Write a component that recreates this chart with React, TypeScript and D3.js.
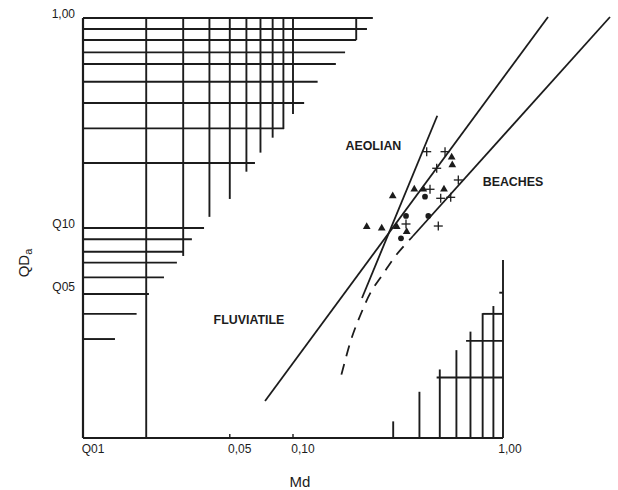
import React from "react";
import * as d3 from "d3";

// ---------- data ----------
const xTickValues = [0.01, 0.05, 0.1, 1];
const xTickLabels = ["Q01", "0,05", "0,10", "1,00"];
const yTickValues = [1, 0.1, 0.05];
const yTickLabels = ["1,00", "Q10", "Q05"];

// upper-left nomogram: horizontal rules (QDa level, Md where the rule stops)
const hRuleQDa = [1.0, 0.886, 0.786, 0.686, 0.604, 0.497, 0.394, 0.298, 0.204, 0.1, 0.0884, 0.0771, 0.0684, 0.0582, 0.0485, 0.039, 0.0296];
const hRuleMdEnd = [0.24, 0.225, 0.2, 0.177, 0.16, 0.131, 0.113, 0.0906, 0.0659, 0.0377, 0.033, 0.0301, 0.028, 0.0243, 0.0206, 0.018, 0.0142];
// upper-left nomogram: vertical rules (Md level, QDa where the rule stops)
const vRuleMd = [0.02, 0.03, 0.04, 0.05, 0.06, 0.07, 0.08, 0.09, 0.1, 0.2];
const vRuleQDaEnd = [0.01, 0.0736, 0.113, 0.1375, 0.1854, 0.2285, 0.2692, 0.296, 0.349, 0.786];

// lower-right nomogram: vertical rules from the bottom
const brVMd = [0.3, 0.4, 0.5, 0.6, 0.7, 0.8, 0.9, 1.0];
const brVQDaTop = [0.012, 0.0166, 0.0212, 0.0262, 0.0321, 0.0393, 0.0425, 0.0704];
// lower-right nomogram: horizontal rules to Md = 1
const brHQDa = [0.0194, 0.029, 0.039, 0.0492];
const brHMdStart = [0.483, 0.667, 0.8, 0.96];

// boundary lines
const fluvLineMd = [0.0736, 1.638];
const fluvLineQDa = [0.015, 1.011];
const beachLineMd = [0.3728, 3.232];
const beachLineQDa = [0.0916, 1.011];
const aeolLineMd = [0.2131, 0.4865];
const aeolLineQDa = [0.0464, 0.3425];
const dashLineMd = [0.3728, 0.3128, 0.2683, 0.2351, 0.2085, 0.1889, 0.1693];
const dashLineQDa = [0.0916, 0.0752, 0.0604, 0.0496, 0.0381, 0.0293, 0.0197];

// samples
const triMd = [0.2984, 0.3781, 0.4174, 0.5236, 0.5696, 0.5735, 0.2244, 0.2645, 0.3118, 0.3478];
const triQDa = [0.142, 0.1529, 0.1529, 0.1529, 0.2172, 0.1995, 0.1014, 0.0997, 0.1014, 0.096];
const dotMd = [0.4252, 0.3452, 0.4409, 0.3268];
const dotQDa = [0.141, 0.1141, 0.1141, 0.0893];
const crossMd = [0.4332, 0.5296, 0.4834, 0.6126, 0.4492, 0.5051, 0.5636, 0.4919, 0.3452];
const crossQDa = [0.2309, 0.2309, 0.1925, 0.1693, 0.1529, 0.1385, 0.14, 0.1022, 0.1045];

// region names
const regionNames = ["AEOLIAN", "BEACHES", "FLUVIATILE"];
const regionMd = [0.2415, 1.116, 0.0617];
const regionQDa = [0.2438, 0.1647, 0.0361];

// ---------- chart ----------
const W = 618;
const H = 490;
const INK = "#1c1c1c";
const FONT = "'Liberation Sans', Arial, Helvetica, sans-serif";

export default function App() {
  const x = d3.scaleLog().domain([0.01, 1]).range([83, 503]);
  const y = d3.scaleLog().domain([0.01, 1]).range([438, 18]);

  const line = d3
    .line<[number, number]>()
    .x((d) => x(d[0]))
    .y((d) => y(d[1]));
  const curve = d3
    .line<[number, number]>()
    .x((d) => x(d[0]))
    .y((d) => y(d[1]))
    .curve(d3.curveCatmullRom);

  const zip = (a: number[], b: number[]) => a.map((v, i) => [v, b[i]] as [number, number]);

  const tri = d3.symbol(d3.symbolTriangle, 26)() as string;
  const dot = d3.symbol(d3.symbolCircle, 26)() as string;

  const gridW = 1.9;

  return (
    <svg
      width={W}
      height={H}
      style={{ position: "absolute", left: 0, top: 0, background: "#fff" }}
      fontFamily={FONT}
    >
      <rect x={0} y={0} width={W} height={H} fill="#fff" />

      {/* upper-left nomogram */}
      <g stroke={INK} strokeWidth={gridW} fill="none">
        {hRuleQDa.map((v, i) => (
          <line key={"h" + i} x1={x(0.01)} x2={x(hRuleMdEnd[i])} y1={y(v)} y2={y(v)} />
        ))}
        {vRuleMd.map((v, i) => (
          <line key={"v" + i} x1={x(v)} x2={x(v)} y1={y(1)} y2={y(vRuleQDaEnd[i])} />
        ))}
      </g>

      {/* lower-right nomogram */}
      <g stroke={INK} strokeWidth={gridW} fill="none">
        {brVMd.map((v, i) => (
          <line key={"bv" + i} x1={x(v)} x2={x(v)} y1={y(0.01)} y2={y(brVQDaTop[i])} />
        ))}
        {brHQDa.map((v, i) => (
          <line key={"bh" + i} x1={x(brHMdStart[i])} x2={x(1)} y1={y(v)} y2={y(v)} />
        ))}
      </g>

      {/* axes */}
      <g stroke={INK} strokeWidth={2.2} fill="none">
        <line x1={x(0.01)} x2={x(0.01)} y1={y(1)} y2={y(0.01)} />
        <line x1={x(0.01)} x2={x(1)} y1={y(0.01)} y2={y(0.01)} />
        {xTickValues
          .filter((v) => v > 0.01 && v < 1)
          .map((v, i) => (
            <line key={"xt" + i} x1={x(v)} x2={x(v)} y1={y(0.01)} y2={y(0.01) - 4} strokeWidth={1.4} />
          ))}
      </g>

      {/* tick labels */}
      <g fill={INK} fontSize={12}>
        {xTickValues.map((v, i) => (
          <text key={"xl" + i} x={x(v) + (v === 1 ? 7 : 10)} y={y(0.01) + 12} textAnchor="middle" dominantBaseline="middle">
            {xTickLabels[i]}
          </text>
        ))}
        {yTickValues.map((v, i) => (
          <text key={"yl" + i} x={x(0.01) - 8} y={y(v) - 3} textAnchor="end" dominantBaseline="middle">
            {yTickLabels[i]}
          </text>
        ))}
      </g>

      {/* axis titles */}
      <text x={300} y={483} fontSize={15} fill={INK} textAnchor="middle" dominantBaseline="middle">
        Md
      </text>
      <text
        transform="translate(25,263) rotate(-90)"
        fontSize={15}
        fill={INK}
        textAnchor="middle"
        dominantBaseline="middle"
      >
        QD<tspan fontSize={11} dy={4}>a</tspan>
      </text>

      {/* boundary lines */}
      <g stroke={INK} strokeWidth={1.8} fill="none">
        <path d={line(zip(fluvLineMd, fluvLineQDa)) as string} />
        <path d={line(zip(beachLineMd, beachLineQDa)) as string} />
        <path d={line(zip(aeolLineMd, aeolLineQDa)) as string} />
        <path d={curve(zip(dashLineMd, dashLineQDa)) as string} strokeDasharray="11 8" strokeDashoffset={-14} />
      </g>

      {/* samples */}
      <g fill={INK}>
        {triMd.map((v, i) => (
          <path key={"t" + i} d={tri} transform={`translate(${x(v)},${y(triQDa[i])})`} />
        ))}
        {dotMd.map((v, i) => (
          <path key={"d" + i} d={dot} transform={`translate(${x(v)},${y(dotQDa[i])})`} />
        ))}
      </g>
      <g stroke={INK} strokeWidth={1.3}>
        {crossMd.map((v, i) => {
          const cx = x(v);
          const cy = y(crossQDa[i]);
          return (
            <g key={"c" + i}>
              <line x1={cx - 4.5} x2={cx + 4.5} y1={cy} y2={cy} />
              <line x1={cx} x2={cx} y1={cy - 4.5} y2={cy + 4.5} />
            </g>
          );
        })}
      </g>

      {/* region names */}
      <g fill={INK} fontSize={12.4} fontWeight="bold">
        {regionNames.map((t, i) => (
          <text key={t} x={x(regionMd[i])} y={y(regionQDa[i])} textAnchor="middle" dominantBaseline="middle">
            {t}
          </text>
        ))}
      </g>
    </svg>
  );
}
